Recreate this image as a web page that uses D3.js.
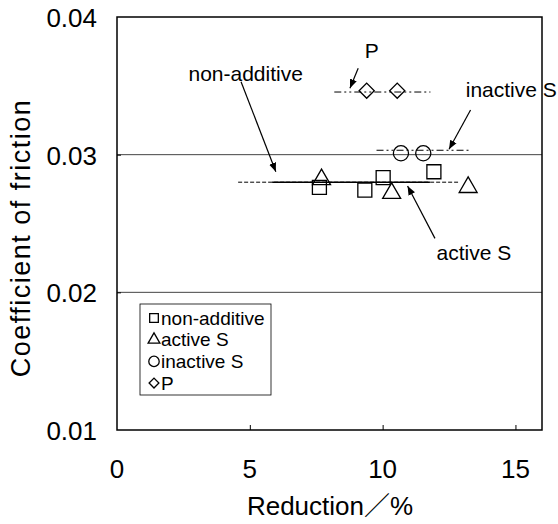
<!DOCTYPE html>
<html>
<head>
<meta charset="utf-8">
<script src="https://cdn.jsdelivr.net/npm/d3@7"></script>
<style>
  body { margin: 0; background: #fff; }
  text { font-family: "Liberation Sans", Arial, "Noto Sans CJK JP", sans-serif; fill: #000; }
</style>
</head>
<body>
<script>
// reduction (%) and coefficient of friction for each additive
const nonAdditive = [[7.62, 0.02763], [9.33, 0.02743], [10.02, 0.02833], [11.93, 0.02876]];
const activeS = [[7.7, 0.0282], [10.34, 0.0272], [13.22, 0.02763]];
const inactiveS = [[10.69, 0.0301], [11.53, 0.0301]];
const additiveP = [[9.4, 0.03465], [10.55, 0.03465]];

// average lines: [x start, x end, y]
const lineNonAdditive = [4.56, 12.84, 0.0280];
const lineActiveS = [5.84, 11.78, 0.0280];
const lineInactiveS = [9.77, 13.26, 0.03032];
const lineP = [8.18, 11.80, 0.03455];

// annotations: label, label x, label y, arrow from [x, y], arrow to [x, y]
const notes = [
  ["P", 9.59, 0.0370, [9.08, 0.03627], [8.77, 0.03482], "middle"],
  ["non-additive", 2.69, 0.03535, [4.67, 0.0353], [5.98, 0.02876], "start"],
  ["inactive S", 13.13, 0.03417, [13.31, 0.03324], [12.50, 0.03039], "start"],
  ["active S", 12.03, 0.02235, [11.97, 0.02392], [10.94, 0.02772], "start"]
];

const legendNames = ["non-additive", "active S", "inactive S", "P"];
const xTicks = [0, 5, 10, 15];
const yTicks = [0.01, 0.02, 0.03, 0.04];

const width = 558, height = 524;
const margin = {left: 117, right: 16, top: 17, bottom: 94};

const svg = d3.select("body").append("svg")
    .attr("width", width)
    .attr("height", height);

const x = d3.scaleLinear().domain([0, 16]).range([margin.left, width - margin.right]);
const y = d3.scaleLinear().domain([0.01, 0.04]).range([height - margin.bottom, margin.top]);

svg.append("defs").append("marker")
    .attr("id", "head")
    .attr("viewBox", "0 0 10 10")
    .attr("refX", 10).attr("refY", 5)
    .attr("markerWidth", 9).attr("markerHeight", 9)
    .attr("markerUnits", "userSpaceOnUse")
    .attr("orient", "auto")
  .append("path")
    .attr("d", "M0,1L10,5L0,9Z")
    .attr("fill", "#000");

// grid lines at 0.02 / 0.03
svg.append("g")
  .selectAll("line")
  .data([0.02, 0.03])
  .join("line")
    .attr("x1", x(0)).attr("x2", x(16))
    .attr("y1", d => y(d)).attr("y2", d => y(d))
    .attr("stroke", "#444")
    .attr("stroke-width", 1);

// inward ticks
const xAxis = svg.append("g")
    .attr("transform", `translate(0,${y(0.01)})`)
    .call(d3.axisTop(x).tickValues([5, 10, 15]).tickSize(5).tickFormat(""));
xAxis.select(".domain").remove();

const yAxis = svg.append("g")
    .attr("transform", `translate(${x(0)},0)`)
    .call(d3.axisRight(y).tickValues([0.02, 0.03]).tickSize(4).tickFormat(""));
yAxis.select(".domain").remove();

svg.append("rect")
    .attr("x", x(0)).attr("y", y(0.04))
    .attr("width", x(16) - x(0)).attr("height", y(0.01) - y(0.04))
    .attr("fill", "none")
    .attr("stroke", "#000")
    .attr("stroke-width", 1.5);

// tick labels
svg.append("g")
    .style("font-size", "26px")
  .selectAll("text")
  .data(xTicks)
  .join("text")
    .attr("x", d => x(d))
    .attr("y", 478)
    .attr("text-anchor", "middle")
    .text(d => d);

svg.append("g")
    .style("font-size", "26px")
  .selectAll("text")
  .data(yTicks)
  .join("text")
    .attr("x", 97)
    .attr("y", d => y(d) + 10)
    .attr("text-anchor", "end")
    .text(d => d3.format(".2f")(d));

svg.append("text")
    .attr("x", 330)
    .attr("y", 515)
    .attr("text-anchor", "middle")
    .style("font-size", "26px")
    .text("Reduction／%");

svg.append("text")
    .attr("transform", "translate(30,238) rotate(-90)")
    .attr("text-anchor", "middle")
    .style("font-size", "27px")
    .style("letter-spacing", "1.5px")
    .text("Coefficient of friction");

// fitted lines
const fits = [
  [lineNonAdditive, "4,2"],
  [lineActiveS, null],
  [lineInactiveS, "7,3,2,3,2,3"],
  [lineP, "7,3,2,3,2,3"]
];
svg.append("g")
  .selectAll("line")
  .data(fits)
  .join("line")
    .attr("x1", d => x(d[0][0])).attr("x2", d => x(d[0][1]))
    .attr("y1", d => y(d[0][2])).attr("y2", d => y(d[0][2]))
    .attr("stroke", "#000")
    .attr("stroke-width", d => d[1] ? 1 : 1.5)
    .attr("stroke-dasharray", d => d[1]);

// markers
const sym = {
  square: d3.symbol().type(d3.symbolSquare),
  triangle: d3.symbol().type(d3.symbolTriangle),
  circle: d3.symbol().type(d3.symbolCircle),
  diamond: d3.symbol().type(d3.symbolSquare)
};
const groups = [
  [nonAdditive, "square", 196, 0],
  [activeS, "triangle", 140, 0],
  [inactiveS, "circle", 180, 0],
  [additiveP, "diamond", 115, 45]
];
groups.forEach(([pts, type, size, rot]) => {
  svg.append("g")
    .selectAll("path")
    .data(pts)
    .join("path")
      .attr("transform", d => `translate(${x(d[0])},${y(d[1])}) rotate(${rot})`)
      .attr("d", sym[type].size(size)())
      .attr("fill", "none")
      .attr("stroke", "#000")
      .attr("stroke-width", 1.3);
});

// annotations
const ann = svg.append("g");
ann.selectAll("text")
  .data(notes)
  .join("text")
    .attr("x", d => x(d[1]))
    .attr("y", d => y(d[2]))
    .attr("text-anchor", d => d[5])
    .style("font-size", "21px")
    .text(d => d[0]);
ann.selectAll("line")
  .data(notes)
  .join("line")
    .attr("x1", d => x(d[3][0])).attr("y1", d => y(d[3][1]))
    .attr("x2", d => x(d[4][0])).attr("y2", d => y(d[4][1]))
    .attr("stroke", "#000")
    .attr("stroke-width", 1.2)
    .attr("marker-end", "url(#head)");

// legend
const legend = svg.append("g").attr("transform", "translate(140,304)");
legend.append("rect")
    .attr("width", 131).attr("height", 91)
    .attr("fill", "#fff")
    .attr("stroke", "#000")
    .attr("stroke-width", 0.8);
const legendTypes = [["square", 75, 0], ["triangle", 60, 0], ["circle", 85, 0], ["diamond", 48, 45]];
const row = legend.selectAll("g")
  .data(legendNames)
  .join("g")
    .attr("transform", (d, i) => `translate(0,${14 + i * 21.7})`);
row.append("path")
    .attr("transform", (d, i) => `translate(14,0) rotate(${legendTypes[i][2]})`)
    .attr("d", (d, i) => sym[legendTypes[i][0]].size(legendTypes[i][1])())
    .attr("fill", "none")
    .attr("stroke", "#000")
    .attr("stroke-width", 1.3);
row.append("text")
    .attr("x", 21)
    .attr("y", 6.5)
    .style("font-size", "19px")
    .text(d => d);
</script>
</body>
</html>
